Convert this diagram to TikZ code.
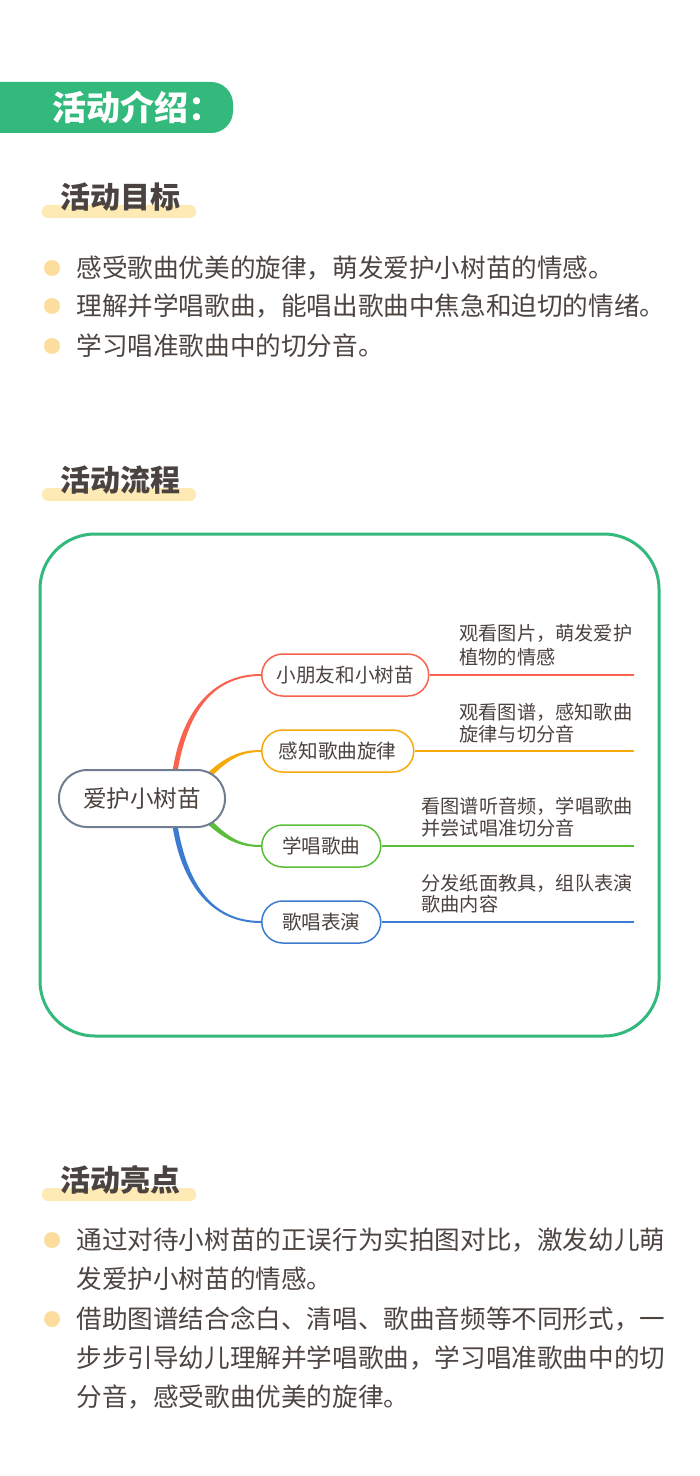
\documentclass[tikz,border=0pt]{standalone}
\usepackage{fontspec}
\setmainfont{Noto Sans CJK SC}
\usetikzlibrary{calc}
\definecolor{brandgreen}{HTML}{33B97B}
\definecolor{barc}{HTML}{FDEAB4}
\definecolor{dotc}{HTML}{FDDD9E}
\definecolor{titlec}{HTML}{4B4340}
\definecolor{bodyc}{HTML}{4D4541}
\definecolor{redc}{HTML}{F7634F}
\definecolor{orangec}{HTML}{F6AA0A}
\definecolor{greenc}{HTML}{5BBE3B}
\definecolor{bluec}{HTML}{3C7CD0}
\definecolor{rootc}{HTML}{717E91}
\begin{document}
\begin{tikzpicture}[x=0.5pt,y=-0.5pt,
  sectitle/.style={anchor=west, inner sep=0, text=titlec, font=\fontsize{15}{18}\selectfont\bfseries},
  btext/.style={anchor=west, inner sep=0, text=bodyc, font=\fontsize{12.8}{15}\selectfont},
  rootbox/.style={draw=rootc, line width=1pt, fill=white, rounded corners=14pt, minimum width=83pt, minimum height=28.5pt, inner sep=0, text=titlec, font=\fontsize{11.8}{14}\selectfont},
  childbox/.style={rounded corners=10.5pt, minimum height=21pt, inner sep=0, line width=0.75pt, fill=white, anchor=west, text=titlec, font=\fontsize{9.8}{12}\selectfont},
  leaf/.style={anchor=west, inner sep=0, text=titlec, font=\fontsize{9.6}{12}\selectfont},
  branchline/.style={line width=0.75pt}
]
\useasboundingbox (0,0) rectangle (700,1476);
\fill[white] (0,0) rectangle (700,1476);
% header banner
\begin{scope}
\clip (0,0) rectangle (700,1476);
\fill[brandgreen, rounded corners=11pt] (-40,82) rectangle (233,133);
\end{scope}
\node[anchor=west, inner sep=0, text=white, font=\fontsize{17}{20}\selectfont\bfseries] (hdr) at (52,107.5) {活动介绍：};

% section 1
\fill[barc, rounded corners=3pt] (42,205) rectangle (196,218);
\node[sectitle] (t1) at (60,197) {活动目标};
\fill[dotc] (52,268) circle[radius=4pt];
\fill[dotc] (52,306) circle[radius=4pt];
\fill[dotc] (52,346) circle[radius=4pt];
\node[btext] (g1) at (76,268) {感受歌曲优美的旋律，萌发爱护小树苗的情感。};
\node[btext] (g2) at (76,306) {理解并学唱歌曲，能唱出歌曲中焦急和迫切的情绪。};
\node[btext] (g3) at (76,346) {学习唱准歌曲中的切分音。};

% section 2
\fill[barc, rounded corners=3pt] (42,488) rectangle (196,501);
\node[sectitle] (t2) at (60,480) {活动流程};
\draw[brandgreen, line width=1.5pt, rounded corners=27.5pt] (40,534) rectangle (659,1036);

% mind map
\node[childbox, draw=redc, minimum width=83.5pt] (c1) at (261,675) {小朋友和小树苗};
\node[childbox, draw=orangec, minimum width=76pt] (c2) at (261,751) {感知歌曲旋律};
\node[childbox, draw=greenc, minimum width=59.5pt] (c3) at (261,846) {学唱歌曲};
\node[childbox, draw=bluec, minimum width=59.5pt] (c4) at (261,922) {歌唱表演};
\coordinate (e1) at (634,675);
\coordinate (e2) at (634,751);
\coordinate (e3) at (634,846);
\coordinate (e4) at (634,922);
\coordinate (rc) at (142,798.5);

\fill[redc] ($(rc)+(30.5,-27)$) .. controls (181,715) and (210,674) .. ($(c1.west)+(0,-1)$) -- ($(c1.west)+(0,1)$) .. controls (210,676) and (187,716) .. ($(rc)+(35.5,-27)$) -- cycle;
\fill[orangec] ($(rc)+(56,-16)$) .. controls (223,756) and (240,750) .. ($(c2.west)+(0,-1)$) -- ($(c2.west)+(0,1)$) .. controls (240,752) and (227,759) .. ($(rc)+(60,-12)$) -- cycle;
\fill[greenc] ($(rc)+(56,16)$) .. controls (223,841) and (240,847) .. ($(c3.west)+(0,1)$) -- ($(c3.west)+(0,-1)$) .. controls (240,845) and (227,838) .. ($(rc)+(60,12)$) -- cycle;
\fill[bluec] ($(rc)+(30.5,27)$) .. controls (181,882) and (210,923) .. ($(c4.west)+(0,1)$) -- ($(c4.west)+(0,-1)$) .. controls (210,921) and (187,881) .. ($(rc)+(35.5,27)$) -- cycle;

\node[rootbox] (root) at (rc) {爱护小树苗};

\draw[redc, branchline] (c1.east) -- (e1);
\draw[orangec, branchline] (c2.east) -- (e2);
\draw[greenc, branchline] (c3.east) -- (e3);
\draw[bluec, branchline] (c4.east) -- (e4);

\node[leaf] (l1a) at (459,633) {观看图片，萌发爱护};
\node[leaf] (l1b) at (459,657) {植物的情感};
\node[leaf] (l2a) at (459,712) {观看图谱，感知歌曲};
\node[leaf] (l2b) at (459,734) {旋律与切分音};
\node[leaf] (l3a) at (421,806) {看图谱听音频，学唱歌曲};
\node[leaf] (l3b) at (421,828) {并尝试唱准切分音};
\node[leaf] (l4a) at (421,883) {分发纸面教具，组队表演};
\node[leaf] (l4b) at (421,904) {歌曲内容};

% section 3
\fill[barc, rounded corners=3pt] (42,1188) rectangle (196,1201);
\node[sectitle] (t3) at (60,1180) {活动亮点};
\fill[dotc] (52,1240) circle[radius=4pt];
\fill[dotc] (52,1319) circle[radius=4pt];
\node[btext] (h1a) at (76,1240) {通过对待小树苗的正误行为实拍图对比，激发幼儿萌};
\node[btext] (h1b) at (76,1279) {发爱护小树苗的情感。};
\node[btext] (h2a) at (76,1319) {借助图谱结合念白、清唱、歌曲音频等不同形式，一};
\node[btext] (h2b) at (76,1358) {步步引导幼儿理解并学唱歌曲，学习唱准歌曲中的切};
\node[btext] (h2c) at (76,1397) {分音，感受歌曲优美的旋律。};
\end{tikzpicture}
\end{document}
